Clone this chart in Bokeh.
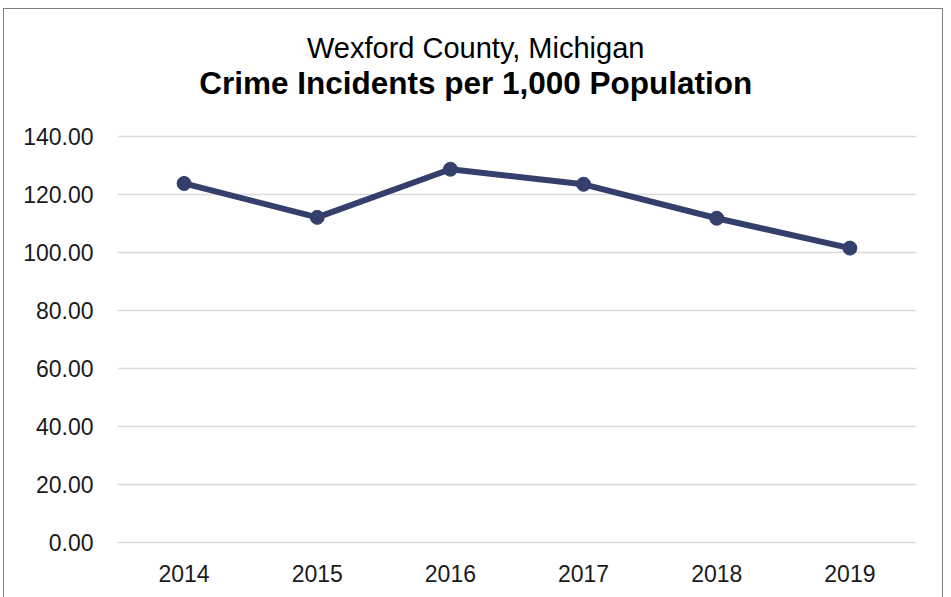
from bokeh.plotting import figure
from bokeh.models import ColumnDataSource, FactorRange, Range1d, NumeralTickFormatter, FixedTicker, Label
from bokeh.embed import file_html
from bokeh.resources import INLINE

years = ["2014", "2015", "2016", "2017", "2018", "2019"]
rates = [123.9, 112.2, 128.8, 123.6, 111.9, 101.6]
y_ticks = [0, 20, 40, 60, 80, 100, 120, 140]
subtitle = "Wexford County, Michigan"
title = "Crime Incidents per 1,000 Population"

src = ColumnDataSource(data=dict(year=years, rate=rates))

p = figure(width=940, height=592, output_backend="svg", toolbar_location=None,
           x_range=FactorRange(factors=years, range_padding=0),
           y_range=Range1d(-0.6, 180.43),
           min_border_left=113, min_border_right=28, min_border_top=10, min_border_bottom=57)
p.title.visible = False
p.styles = {"border": "1px solid #7f7f7f", "margin-left": "3px", "margin-top": "8px"}

p.outline_line_color = None
p.background_fill_color = "white"
p.border_fill_color = "white"

line_color = "#34406B"
p.line(x="year", y="rate", source=src, line_width=6, line_color=line_color)
p.scatter(x="year", y="rate", source=src, size=14, fill_color=line_color, line_color=line_color)

p.xgrid.grid_line_color = None
p.ygrid.grid_line_color = "#D9D9D9"
p.ygrid.grid_line_width = 1.4

p.yaxis.ticker = FixedTicker(ticks=y_ticks)
p.yaxis.formatter = NumeralTickFormatter(format="0.00")
for ax in (p.xaxis, p.yaxis):
    ax.axis_line_color = None
    ax.major_tick_line_color = None
    ax.minor_tick_line_color = None
    ax.major_tick_out = 0
    ax.major_tick_in = 0
    ax.major_label_text_font = "Liberation Sans"
    ax.major_label_text_font_size = "23px"
    ax.major_label_text_color = "#1a1a1a"
p.yaxis.major_label_standoff = 24
p.xaxis.major_label_standoff = 20

p.add_layout(Label(x=2.69, y=170.6, text=subtitle, text_align="center", text_baseline="alphabetic",
                   text_font="Liberation Sans", text_font_size="29px", text_color="#000000"))
p.add_layout(Label(x=2.69, y=158.4, text=title, text_align="center", text_baseline="alphabetic",
                   text_font="Liberation Sans", text_font_size="31.5px", text_font_style="bold",
                   text_color="#000000"))

open("out.html", "w").write(file_html(p, INLINE))
